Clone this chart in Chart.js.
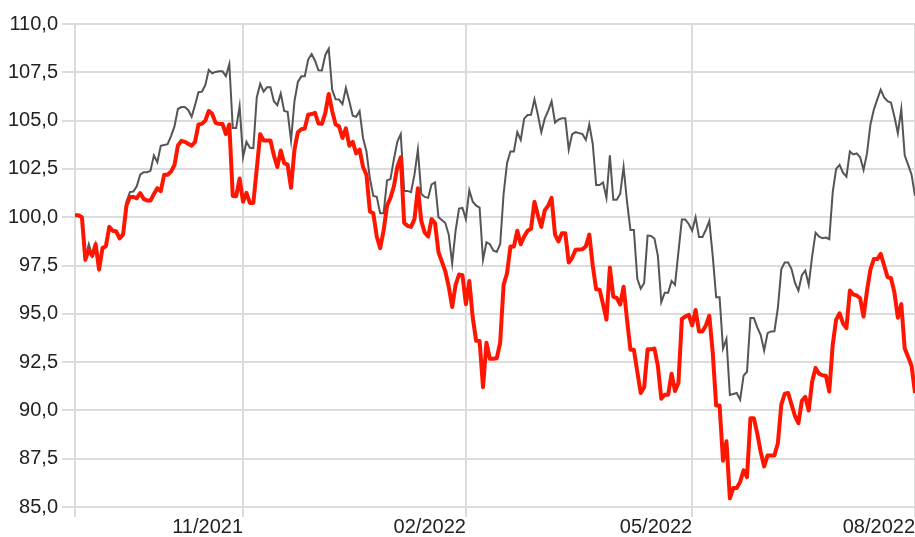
<!DOCTYPE html>
<html>
<head>
<meta charset="utf-8">
<script src="https://cdn.jsdelivr.net/npm/chart.js@4"></script>
<style>
  body { margin: 0; background: #fff; }
  #wrap { width: 915px; height: 537px; }
</style>
</head>
<body>
<div id="wrap"><canvas id="chart" width="915" height="537"></canvas></div>
<script>
// trading-day index of each tick and its label
const tickIndex = [0, 49, 114, 180, 245];
const tickLabels = ['', '11/2021', '02/2022', '05/2022', '08/2022'];

// grey series (benchmark), one value per trading day
const grey = [
  100.1, 100.1, 100.0, 97.9, 98.6, 98.0, 98.6, 97.4, 98.4, 98.5,
  99.5, 99.35, 99.3, 98.95, 99.15, 100.8, 101.3, 101.33, 101.6, 102.2,
  102.33, 102.33, 102.4, 103.2, 102.85, 103.7, 103.74, 103.78, 104.2, 104.7,
  105.6, 105.7, 105.7, 105.55, 105.2, 105.8, 106.47, 106.5, 106.84, 107.62,
  107.45, 107.52, 107.55, 107.55, 107.3, 107.93, 104.62, 104.62, 105.74, 103.1,
  103.9, 103.59, 103.57, 106.2, 106.9, 106.5, 106.72, 106.72, 106.0, 105.8,
  106.4, 105.5, 105.45, 103.97, 106.0, 107.0, 107.29, 107.29, 108.16, 108.45,
  108.1, 107.6, 107.59, 108.4, 108.72, 106.6, 106.1, 106.09, 105.85, 106.69,
  106.0, 105.25, 105.2, 105.5, 104.1, 103.4, 102.0, 101.1, 101.06, 100.2,
  100.2, 101.9, 101.97, 103.0, 103.9, 104.3, 101.36, 101.36, 101.3, 102.2,
  103.5, 101.2, 101.05, 101.0, 101.7, 101.8, 100.0, 99.85, 99.7, 99.1,
  97.6, 99.3, 100.45, 100.48, 99.9, 101.4, 100.8, 100.6, 100.5, 97.8,
  98.7, 98.6, 98.28, 98.2, 98.6, 101.2, 102.8, 103.4, 103.4, 104.4,
  104.0, 105.1, 105.29, 105.3, 106.1, 105.3, 104.4, 105.1, 105.5, 106.0,
  104.9, 105.05, 105.12, 105.12, 103.5, 104.3, 104.4, 104.35, 104.3, 104.0,
  104.8, 103.8, 101.67, 101.67, 101.8, 101.0, 103.2, 100.9, 100.9, 101.2,
  102.6, 100.8, 99.34, 99.34, 96.81, 96.3, 96.6, 99.05, 99.03, 98.9,
  98.0, 95.6, 96.09, 96.09, 96.7, 96.5, 98.2, 99.88, 99.88, 99.65,
  99.3, 100.0, 98.97, 98.97, 99.35, 99.8, 98.0, 95.86, 95.86, 93.2,
  93.7, 90.8, 90.85, 90.9, 90.55, 91.8, 92.0, 94.78, 94.78, 94.3,
  93.9, 93.1, 94.0, 94.09, 94.1, 95.3, 97.3, 97.66, 97.66, 97.3,
  96.6, 96.2, 97.0, 97.24, 96.5, 97.97, 99.2, 99.0, 98.91, 98.95,
  98.86, 101.3, 102.5, 102.71, 102.3, 102.1, 103.4, 103.25, 103.3, 103.1,
  102.45, 103.3, 104.8, 105.57, 106.1, 106.6, 106.2, 106.0, 105.93, 105.2,
  104.35, 105.6, 103.2, 102.71, 102.2, 101.1
];

// red series (fund), one value per trading day
const red = [
  100.1, 100.1, 100.0, 97.8, 98.3, 98.0, 98.6, 97.3, 98.4, 98.5,
  99.5, 99.3, 99.26, 98.9, 99.1, 100.6, 101.05, 101.05, 100.98, 101.25,
  100.95, 100.86, 100.86, 101.2, 101.5, 101.35, 102.2, 102.2, 102.36, 102.7,
  103.7, 103.95, 103.9, 103.8, 103.7, 103.9, 104.8, 104.83, 105.0, 105.5,
  105.35, 104.88, 104.83, 104.83, 104.3, 104.8, 101.1, 101.09, 102.0, 100.8,
  101.26, 100.74, 100.74, 102.5, 104.3, 103.97, 103.97, 103.97, 103.2, 102.6,
  103.45, 102.8, 102.72, 101.52, 103.5, 104.4, 104.55, 104.59, 105.3, 105.34,
  105.4, 104.85, 104.83, 105.4, 106.38, 105.5, 104.8, 104.71, 104.1, 104.6,
  103.7, 103.9, 103.3, 103.5, 102.6, 102.2, 100.3, 100.2, 99.0, 98.4,
  99.3, 100.6, 101.0, 101.6, 102.6, 103.1, 99.7, 99.55, 99.5, 99.9,
  101.5, 99.8, 99.2, 99.0, 99.9, 99.7, 98.2, 97.7, 97.2, 96.4,
  95.35, 96.5, 97.03, 97.0, 95.5, 96.7, 94.8, 93.6, 93.59, 91.2,
  93.5, 92.67, 92.67, 92.7, 93.5, 96.5, 97.1, 98.48, 98.48, 99.3,
  98.6, 99.0, 99.3, 99.4, 100.8, 100.1, 99.5, 100.35, 100.6, 101.0,
  99.1, 98.75, 99.17, 99.17, 97.65, 97.9, 98.32, 98.33, 98.34, 98.5,
  99.1, 97.5, 96.27, 96.25, 95.5, 94.7, 97.4, 95.88, 95.82, 95.48,
  96.4, 94.7, 93.14, 93.14, 92.0, 90.9, 91.2, 93.16, 93.16, 93.2,
  92.3, 90.6, 90.81, 90.81, 91.9, 91.0, 91.43, 94.74, 94.86, 94.95,
  94.4, 95.2, 94.09, 94.09, 94.4, 94.9, 93.0, 90.26, 90.26, 87.4,
  88.4, 85.45, 85.98, 85.98, 86.3, 86.9, 86.55, 89.6, 89.6, 88.8,
  87.84, 87.1, 87.67, 87.67, 87.67, 88.3, 90.3, 90.86, 90.9, 90.3,
  89.7, 89.34, 90.5, 90.7, 90.0, 91.5, 92.2, 91.9, 91.82, 91.8,
  90.98, 93.4, 94.7, 95.03, 94.5, 94.26, 96.2, 96.0, 95.95, 95.8,
  94.86, 96.2, 97.3, 97.83, 97.83, 98.1, 97.5, 96.9, 96.84, 96.1,
  94.8, 95.5, 93.2, 92.77, 92.3, 90.9
];

const yMin = 85, yMax = 110, yStep = 2.5;

const toPoints = arr => arr.map((v, i) => ({ x: i, y: v }));
const font = { family: "'Liberation Sans', Arial, sans-serif", size: 20, lineHeight: 1 };
const gridColor = '#dcdcdc';

new Chart(document.getElementById('chart'), {
  type: 'line',
  data: {
    datasets: [
      {
        data: toPoints(red),
        borderColor: '#ff1500',
        borderWidth: 4,
        pointRadius: 0,
        tension: 0,
        borderJoinStyle: 'round'
      },
      {
        data: toPoints(grey),
        borderColor: '#555555',
        borderWidth: 2,
        pointRadius: 0,
        tension: 0
      }
    ]
  },
  options: {
    responsive: false,
    animation: false,
    events: [],
    layout: { padding: { top: 24, left: 4, right: 0, bottom: 0 } },
    plugins: { legend: { display: false }, tooltip: { enabled: false } },
    scales: {
      x: {
        type: 'linear',
        min: 0,
        max: red.length - 1,
        afterBuildTicks: scale => {
          scale.ticks = tickIndex.map(v => ({ value: v }));
        },
        ticks: {
          autoSkip: false,
          maxRotation: 0,
          align: 'end',
          padding: 0,
          color: '#222',
          font: font,
          callback: v => tickLabels[tickIndex.indexOf(v)]
        },
        grid: { color: gridColor, lineWidth: 2, tickLength: 10 },
        border: { display: false }
      },
      y: {
        min: yMin,
        max: yMax,
        ticks: {
          stepSize: yStep,
          padding: 4,
          color: '#222',
          font: font,
          callback: v => v.toFixed(1).replace('.', ',')
        },
        grid: { color: gridColor, lineWidth: 2, tickLength: 13 },
        border: { display: false }
      }
    }
  }
});
</script>
</body>
</html>
